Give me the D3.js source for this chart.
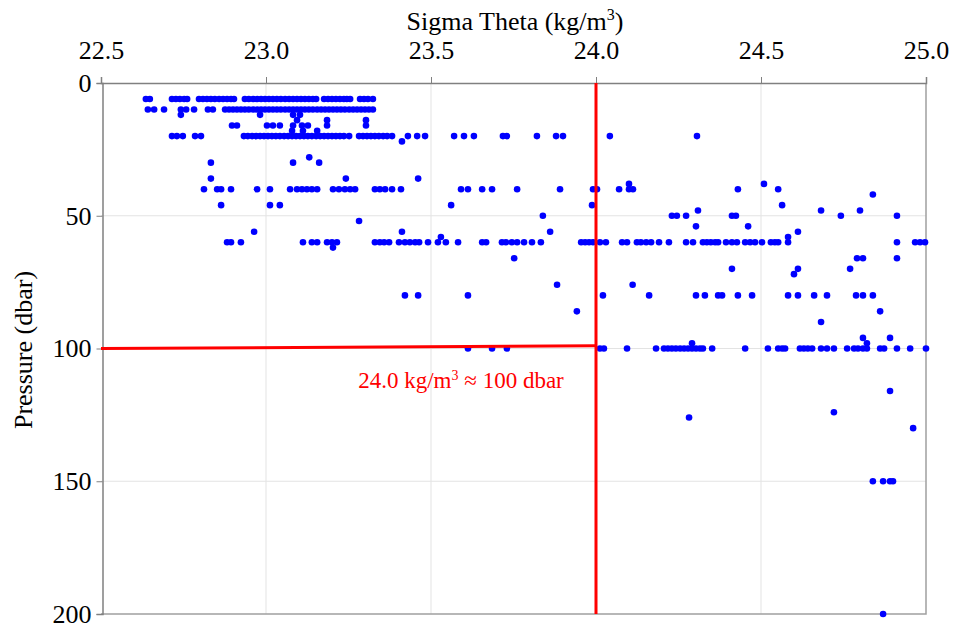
<!DOCTYPE html>
<html>
<head>
<meta charset="utf-8">
<script src="https://cdn.jsdelivr.net/npm/d3@7"></script>
<style>
  body { margin: 0; background: #fff; }
  text { font-family: "Liberation Serif", "Times New Roman", serif; }
</style>
</head>
<body>
<svg id="chart" width="955" height="628"></svg>
<script>
// Axis ticks
const xTicks = [22.5, 23.0, 23.5, 24.0, 24.5, 25.0];
const yTicks = [0, 50, 100, 150, 200];

// Sigma-theta readings (kg/m3), grouped by sampling pressure (dbar)
const sigmaAt6 = [22.636, 22.648, 22.715, 22.727, 22.739, 22.752, 22.761, 22.797, 22.809, 22.821, 22.833, 22.845, 22.858, 22.870, 22.882, 22.894, 22.903,
  22.936, 22.948, 22.961, 22.973, 22.985, 22.997, 23.009, 23.021, 23.033, 23.045, 23.058, 23.070, 23.082, 23.094, 23.106, 23.118, 23.130, 23.142, 23.152,
  23.176, 23.188, 23.200, 23.212, 23.224, 23.236, 23.245, 23.255, 23.285, 23.297, 23.309, 23.324];
const sigmaAt10 = [22.642, 22.661, 22.691, 22.742, 22.758, 22.782, 22.824, 22.839, 22.876, 22.888, 22.900, 22.912, 22.924, 22.936, 22.948, 22.961, 22.973,
  22.985, 22.997, 23.009, 23.021, 23.033, 23.045, 23.058, 23.070, 23.082, 23.094, 23.106, 23.118, 23.130, 23.142, 23.155, 23.167, 23.179, 23.191, 23.203,
  23.215, 23.227, 23.239, 23.252, 23.264, 23.276, 23.288, 23.300, 23.312, 23.324];
const sigmaAt12 = [22.742, 22.982, 23.082, 23.103];
const sigmaAt14 = [23.094, 23.185, 23.303];
const sigmaAt16 = [22.897, 22.912, 23.003, 23.021, 23.042, 23.082, 23.109, 23.127, 23.185, 23.303];
const sigmaAt18 = [23.079, 23.112, 23.155];
const sigmaAt20 = [22.715, 22.730, 22.748, 22.785, 22.803, 22.933, 22.945, 22.958, 22.970, 22.982, 22.994, 23.006, 23.018, 23.030, 23.042, 23.055, 23.067,
  23.079, 23.091, 23.103, 23.115, 23.127, 23.139, 23.152, 23.164, 23.176, 23.188, 23.200, 23.212, 23.224, 23.236, 23.252, 23.282, 23.294, 23.306, 23.318,
  23.330, 23.342, 23.355, 23.367, 23.382, 23.430, 23.458, 23.482, 23.570, 23.600, 23.630, 23.718, 23.730, 23.821, 23.879, 23.900, 24.042, 24.306];
const sigmaAt22 = [23.412];
const sigmaAt28 = [23.131];
const sigmaAt30 = [22.833, 23.082, 23.161];
const sigmaAt36 = [22.833, 23.242, 23.461];
const sigmaAt38 = [24.100, 24.509];
const sigmaAt40 = [22.812, 22.852, 22.864, 22.894, 22.973, 23.012, 23.073, 23.094, 23.109, 23.124, 23.139, 23.155, 23.203, 23.221, 23.239, 23.255, 23.270,
  23.330, 23.345, 23.361, 23.382, 23.409, 23.591, 23.612, 23.655, 23.685, 23.761, 23.891, 23.991, 24.003, 24.070, 24.100, 24.112, 24.430, 24.552];
const sigmaAt42 = [24.839];
const sigmaAt46 = [22.864, 23.012, 23.042, 23.561, 23.988, 24.564];
const sigmaAt48 = [24.309, 24.682, 24.800];
const sigmaAt50 = [23.839, 24.230, 24.245, 24.273, 24.412, 24.424, 24.742, 24.912];
const sigmaAt52 = [23.282];
const sigmaAt54 = [24.303, 24.461];
const sigmaAt56 = [22.964, 23.412, 23.861, 24.612];
const sigmaAt58 = [23.530, 24.582];
const sigmaAt60 = [22.882, 22.894, 22.924, 23.112, 23.139, 23.155, 23.185, 23.200, 23.215, 23.330, 23.345, 23.358, 23.373, 23.403, 23.421, 23.436, 23.452,
  23.464, 23.491, 23.521, 23.545, 23.582, 23.655, 23.667, 23.715, 23.727, 23.745, 23.761, 23.782, 23.806, 23.833, 23.955, 23.967, 23.979, 23.991, 24.012,
  24.030, 24.079, 24.094, 24.124, 24.136, 24.152, 24.167, 24.191, 24.221, 24.273, 24.294, 24.324, 24.336, 24.348, 24.361, 24.370, 24.394, 24.412, 24.427,
  24.452, 24.467, 24.482, 24.503, 24.530, 24.542, 24.552, 24.582, 24.912, 24.967, 24.982, 24.997];
const sigmaAt62 = [23.203];
const sigmaAt66 = [23.752, 24.791, 24.809, 24.912];
const sigmaAt70 = [24.412, 24.612, 24.770];
const sigmaAt72 = [24.600];
const sigmaAt76 = [23.882, 24.111];
const sigmaAt80 = [23.421, 23.461, 23.612, 24.021, 24.161, 24.303, 24.330, 24.370, 24.382, 24.430, 24.473, 24.582, 24.612, 24.661, 24.700, 24.788, 24.809, 24.839];
const sigmaAt86 = [23.942, 24.861];
const sigmaAt90 = [24.682];
const sigmaAt96 = [24.809, 24.891];
const sigmaAt98 = [24.291, 24.821];
const sigmaAt100 = [23.612, 23.685, 23.730, 24.012, 24.024, 24.094, 24.182, 24.206, 24.218, 24.230, 24.242, 24.255, 24.267, 24.279, 24.291, 24.303, 24.315,
  24.324, 24.352, 24.452, 24.521, 24.552, 24.564, 24.573, 24.618, 24.630, 24.642, 24.655, 24.682, 24.700, 24.721, 24.761, 24.782, 24.794, 24.809, 24.821,
  24.861, 24.873, 24.912, 24.952, 25.000];
const sigmaAt116 = [24.891];
const sigmaAt124 = [24.721];
const sigmaAt126 = [24.282];
const sigmaAt130 = [24.961];
const sigmaAt150 = [24.839, 24.870, 24.891, 24.900];
const sigmaAt200 = [24.870];

const profile = [
  [6, sigmaAt6], [10, sigmaAt10], [12, sigmaAt12], [14, sigmaAt14], [16, sigmaAt16], [18, sigmaAt18], [20, sigmaAt20],
  [22, sigmaAt22], [28, sigmaAt28], [30, sigmaAt30], [36, sigmaAt36], [38, sigmaAt38], [40, sigmaAt40], [42, sigmaAt42],
  [46, sigmaAt46], [48, sigmaAt48], [50, sigmaAt50], [52, sigmaAt52], [54, sigmaAt54], [56, sigmaAt56], [58, sigmaAt58],
  [60, sigmaAt60], [62, sigmaAt62], [66, sigmaAt66], [70, sigmaAt70], [72, sigmaAt72], [76, sigmaAt76], [80, sigmaAt80],
  [86, sigmaAt86], [90, sigmaAt90], [96, sigmaAt96], [98, sigmaAt98], [100, sigmaAt100], [116, sigmaAt116], [124, sigmaAt124],
  [126, sigmaAt126], [130, sigmaAt130], [150, sigmaAt150], [200, sigmaAt200]
];

// Reference isopycnal and its matching depth
const refSigma = 24.0;
const refDepthLine = [[22.5, 100], [24.0, 99]];

const points = profile.flatMap(([p, list]) => list.map(s => ({ sigma: s, pressure: p })));

const svg = d3.select("#chart");
const plotLeft = 101, plotRight = 926, plotTop = 83, plotBottom = 614;
const serif = "'Liberation Serif', 'Times New Roman', serif";

const x = d3.scaleLinear().domain([22.5, 25.0]).range([plotLeft, plotRight]);
const y = d3.scaleLinear().domain([0, 200]).range([plotTop, plotBottom]);

// Gridlines
svg.append("g").selectAll("line").data(xTicks.slice(1, -1)).join("line")
  .attr("x1", d => x(d)).attr("x2", d => x(d)).attr("y1", plotTop).attr("y2", plotBottom)
  .attr("stroke", "#e3e3e3").attr("stroke-width", 1);
svg.append("g").selectAll("line").data(yTicks.slice(1, -1)).join("line")
  .attr("x1", plotLeft).attr("x2", plotRight).attr("y1", d => y(d)).attr("y2", d => y(d))
  .attr("stroke", "#e3e3e3").attr("stroke-width", 1);

// Right and bottom frame
svg.append("path")
  .attr("d", `M${plotRight},${plotTop}V${plotBottom}H${plotLeft}`)
  .attr("fill", "none").attr("stroke", "#a0a0a0").attr("stroke-width", 1.5);

// Top axis
const xAxis = svg.append("g").attr("transform", `translate(0,${plotTop})`)
  .call(d3.axisTop(x).tickValues(xTicks).tickFormat(d3.format(".1f")).tickSizeOuter(0).tickSize(6).tickPadding(18));
// Left axis
const yAxis = svg.append("g").attr("transform", `translate(${plotLeft + 1.5},0)`)
  .call(d3.axisLeft(y).tickValues(yTicks).tickFormat(d3.format("d")).tickSizeOuter(0).tickSize(6).tickPadding(5));

[xAxis, yAxis].forEach(g => {
  g.select(".domain").attr("stroke", "#808080").attr("stroke-width", 1.5);
  g.selectAll(".tick line").attr("stroke", "#808080").attr("stroke-width", 1);
  g.selectAll(".tick text").attr("fill", "#000").style("font-size", "26px").style("font-family", serif);
});

// Data points
svg.append("g").selectAll("circle").data(points).join("circle")
  .attr("cx", d => x(d.sigma)).attr("cy", d => y(d.pressure)).attr("r", 3.3)
  .attr("fill", "#0000ff");

// Reference lines
svg.append("line")
  .attr("x1", x(refSigma)).attr("x2", x(refSigma)).attr("y1", y(0)).attr("y2", y(200))
  .attr("stroke", "#ff0000").attr("stroke-width", 3);
svg.append("path")
  .attr("d", d3.line().x(d => x(d[0])).y(d => y(d[1]))(refDepthLine))
  .attr("fill", "none").attr("stroke", "#ff0000").attr("stroke-width", 3);

// Annotation with superscript unit
const note = svg.append("text").attr("x", 461).attr("y", 388).attr("text-anchor", "middle")
  .attr("fill", "#ff0000").style("font-size", "23px");
note.append("tspan").text("24.0 kg/m");
note.append("tspan").attr("dy", -8).style("font-size", "14px").text("3");
note.append("tspan").attr("dy", 8).text(" ≈ 100 dbar");

// Axis titles
const title = svg.append("text").attr("x", 515).attr("y", 30).attr("text-anchor", "middle")
  .style("font-size", "26px").attr("fill", "#000");
title.append("tspan").text("Sigma Theta (kg/m");
title.append("tspan").attr("dy", -10).style("font-size", "16px").text("3");
title.append("tspan").attr("dy", 10).text(")");

svg.append("text").attr("transform", "translate(32,350) rotate(-90)").attr("text-anchor", "middle")
  .style("font-size", "26px").attr("fill", "#000").text("Pressure (dbar)");
</script>
</body>
</html>
